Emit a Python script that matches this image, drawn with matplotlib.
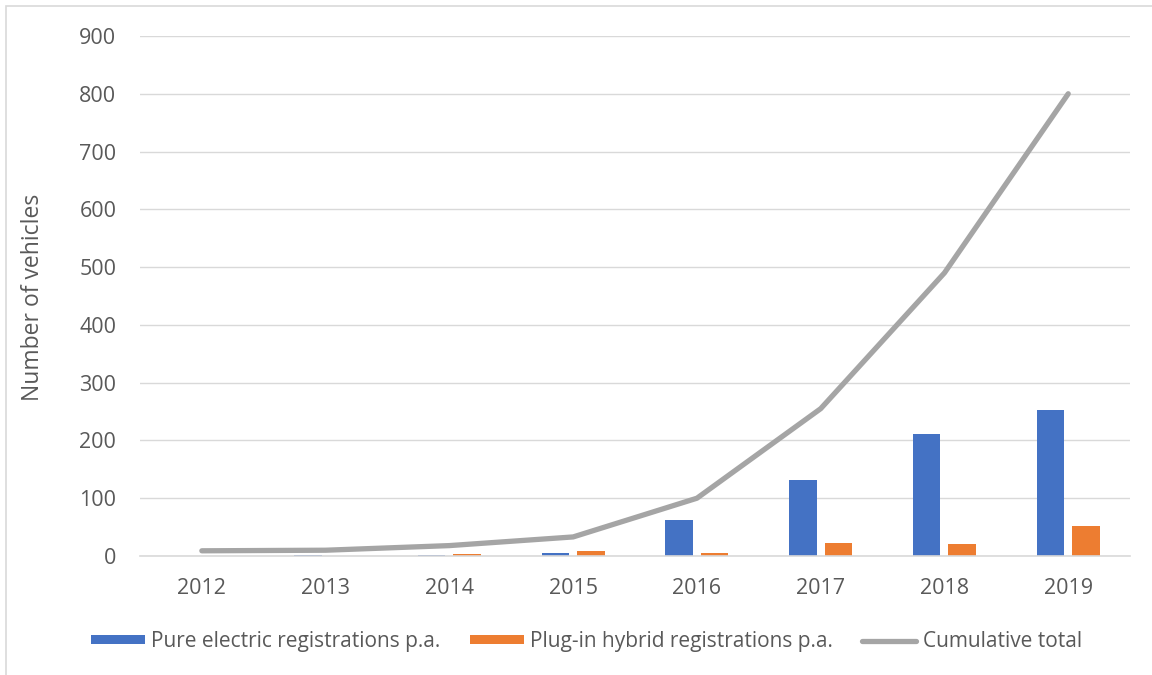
import numpy as np
import matplotlib.pyplot as plt
from matplotlib.patches import Rectangle

plt.rcParams['font.family'] = ['Open Sans', 'DejaVu Sans']

# values
years = ['2012', '2013', '2014', '2015', '2016', '2017', '2018', '2019']
pure_electric = [0, 1, 2, 5, 62, 132, 212, 253]
plug_in_hybrid = [0, 0, 4, 9, 5, 22, 21, 52]
cumulative = [9, 10, 18, 33, 100, 255, 490, 800]
y_ticks = [0, 100, 200, 300, 400, 500, 600, 700, 800, 900]

text_col = '#595959'
grid_col = '#d9d9d9'

fig = plt.figure(figsize=(11.52, 6.75), dpi=100)
ax = fig.add_axes([0.1215, 0.1763, 0.8595, 0.7704])

x = np.arange(len(years))
w = 0.222
b1 = ax.bar(x - 0.143, pure_electric, width=w, color='#4472c4',
            label='Pure electric registrations p.a.', zorder=2)
b2 = ax.bar(x + 0.143, plug_in_hybrid, width=w, color='#ed7d31',
            label='Plug-in hybrid registrations p.a.', zorder=2)
ln, = ax.plot(x, cumulative, color='#a5a5a5', lw=3.8, solid_capstyle='round',
              label='Cumulative total', zorder=3)

ax.set_xlim(-0.5, len(years) - 0.5)
ax.set_ylim(0, 900)
ax.set_yticks(y_ticks)
ax.set_xticks(x)
ax.set_xticklabels(years)
ax.grid(axis='y', color=grid_col, lw=1, zorder=0)
ax.tick_params(length=0, labelsize=15.5, labelcolor=text_col)
ax.tick_params(axis='x', pad=16)
ax.tick_params(axis='y', pad=17)
for s in ['top', 'right', 'left']:
    ax.spines[s].set_visible(False)
ax.spines['bottom'].set_color(grid_col)
ax.spines['bottom'].set_linewidth(1.2)

ax.set_ylabel('Number of vehicles', fontsize=16.5, color=text_col)
ax.yaxis.set_label_coords(-0.096, 0.497)

fig.legend([b1, b2, ln], [b1.get_label(), b2.get_label(), ln.get_label()],
           loc='center', bbox_to_anchor=(0.509, 0.05), ncol=3, frameon=False,
           fontsize=15, labelcolor=text_col, handlelength=2.6,
           handleheight=0.3, handletextpad=0.3, columnspacing=1.4)

# thin chart frame like the spreadsheet export
fig.add_artist(Rectangle((0.0052, -0.1), 1.2, 1.091, transform=fig.transFigure,
                         fill=False, edgecolor=grid_col, lw=1.2))

fig.savefig('out.png', dpi=100)
